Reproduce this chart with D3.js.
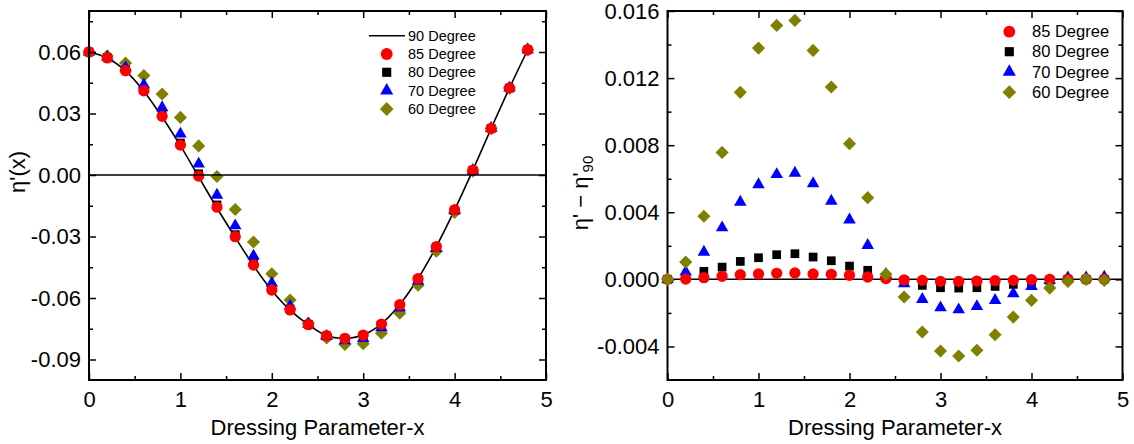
<!DOCTYPE html>
<html>
<head>
<meta charset="utf-8">
<script src="https://cdn.jsdelivr.net/npm/d3@7"></script>
<style>
  html, body { margin: 0; padding: 0; background: #fff; }
  svg { display: block; font-family: "Liberation Sans", Arial, sans-serif; }
</style>
</head>
<body>
<svg id="chart" width="1134" height="444"></svg>
<script>
// Dressing parameter sample points
const dressingX = [0, 0.2, 0.4, 0.6, 0.8, 1.0, 1.2, 1.4, 1.6, 1.8, 2.0, 2.2, 2.4,
                   2.6, 2.8, 3.0, 3.2, 3.4, 3.6, 3.8, 4.0, 4.2, 4.4, 4.6, 4.8];

// η'(x) for each angle
const eta90 = [0.0600, 0.0571, 0.0508, 0.0409, 0.0283, 0.0143, -0.0009, -0.0161, -0.0304, -0.0442,
               -0.0563, -0.0659, -0.0730, -0.0784, -0.0796, -0.0780, -0.0726, -0.0632, -0.0505,
               -0.0349, -0.0170, 0.0024, 0.0227, 0.0424, 0.0611];
const eta85 = [0.0600, 0.0571, 0.0509, 0.0411, 0.0286, 0.0146, -0.0005, -0.0157, -0.0301, -0.0439,
               -0.0561, -0.0658, -0.0730, -0.0784, -0.0797, -0.0781, -0.0727, -0.0633, -0.0506,
               -0.0350, -0.0170, 0.0024, 0.0227, 0.0424, 0.0611];
const eta80 = [0.0600, 0.0572, 0.0513, 0.0416, 0.0294, 0.0156, 0.0006, -0.0146, -0.0291, -0.0431,
               -0.0555, -0.0654, -0.0729, -0.0785, -0.0800, -0.0785, -0.0731, -0.0637, -0.0509,
               -0.0352, -0.0172, 0.0023, 0.0227, 0.0424, 0.0611];
const eta70 = [0.0600, 0.0575, 0.0524, 0.0440, 0.0329, 0.0200, 0.0054, -0.0098, -0.0247, -0.0395,
               -0.0528, -0.0639, -0.0727, -0.0787, -0.0808, -0.0797, -0.0744, -0.0648, -0.0518,
               -0.0358, -0.0174, 0.0023, 0.0228, 0.0425, 0.0612];
const eta60 = [0.0600, 0.0581, 0.0546, 0.0485, 0.0395, 0.0281, 0.0142, -0.0007, -0.0168, -0.0327,
               -0.0482, -0.0610, -0.0722, -0.0795, -0.0827, -0.0823, -0.0772, -0.0674, -0.0538,
               -0.0372, -0.0183, 0.0019, 0.0226, 0.0424, 0.0610];

// η' − η'90 for each angle
const diff85 = [0, 0.00002, 0.00010, 0.00018, 0.00028, 0.00032, 0.00036, 0.00038, 0.00032, 0.00030,
                0.00024, 0.00014, 0.00005, -0.00003, -0.00006, -0.00012, -0.00012, -0.00010, -0.00008,
                -0.00006, -0.00002, 0, 0, 0, 0];
const diff80 = [0, 0.00010, 0.00048, 0.00073, 0.00107, 0.00129, 0.00147, 0.00153, 0.00133, 0.00111,
                0.00079, 0.00054, 0.00010, -0.00006, -0.00036, -0.00050, -0.00052, -0.00050, -0.00042,
                -0.00030, -0.00016, -0.00006, 0.00001, 0.00001, 0.00001];
const diff70 = [0, 0.00044, 0.00163, 0.00308, 0.00461, 0.00565, 0.00626, 0.00634, 0.00571, 0.00467,
                0.00355, 0.00203, 0.00030, -0.00026, -0.00119, -0.00169, -0.00181, -0.00161, -0.00125,
                -0.00085, -0.00042, -0.00006, 0.00010, 0.00010, 0.00014];
const diff60 = [0, 0.00103, 0.00376, 0.00757, 0.01115, 0.01379, 0.01514, 0.01544, 0.01365, 0.01147,
                0.00809, 0.00487, 0.00030, -0.00105, -0.00314, -0.00427, -0.00457, -0.00423, -0.00330,
                -0.00225, -0.00125, -0.00052, -0.00012, 0, -0.00006];

// Axis ticks and labels
const xTicks = [0, 1, 2, 3, 4, 5];
const xTickLabels = ["0", "1", "2", "3", "4", "5"];
const xMinorTicks = [0.5, 1.5, 2.5, 3.5, 4.5];
const leftYTicks = [-0.09, -0.06, -0.03, 0.00, 0.03, 0.06];
const leftYTickLabels = ["-0.09", "-0.06", "-0.03", "0.00", "0.03", "0.06"];
const leftYMinorTicks = [-0.075, -0.045, -0.015, 0.015, 0.045, 0.075];
const rightYTicks = [-0.004, 0.000, 0.004, 0.008, 0.012, 0.016];
const rightYTickLabels = ["-0.004", "0.000", "0.004", "0.008", "0.012", "0.016"];
const rightYMinorTicks = [-0.002, 0.002, 0.006, 0.010, 0.014];

const seriesNames = ["85 Degree", "80 Degree", "70 Degree", "60 Degree"];
const lineName = "90 Degree";
const xTitle = "Dressing Parameter-x";

const svg = d3.select("#chart");

// marker styles per angle
const markerStyle = {
  "85 Degree": { type: d3.symbolCircle, size: 100, color: "#ff0000", rot: 0 },
  "80 Degree": { type: d3.symbolSquare, size: 76, color: "#000000", rot: 0 },
  "70 Degree": { type: d3.symbolTriangle, size: 68, color: "#0000ff", rot: 0 },
  "60 Degree": { type: d3.symbolSquare, size: 86, color: "#808000", rot: 45 }
};

function markerPath(name) {
  const s = markerStyle[name];
  return d3.symbol().type(s.type).size(s.size)();
}

function drawFrame(g, x, y, opts) {
  const [x0, x1] = x.range();
  const [y0, y1] = y.range();
  const w = x1 - x0, h = y0 - y1;

  const majorLen = 7, minorLen = 4;

  const addAxis = (axis, transform, labels) => {
    const a = g.append("g").attr("transform", transform).call(axis);
    a.select(".domain").remove();
    a.selectAll("line").attr("stroke", "#000").attr("stroke-width", 1.5);
    if (labels) {
      a.selectAll("text").attr("font-size", 22).attr("fill", "#000")
        .attr("font-family", '"Liberation Sans", Arial, sans-serif');
    } else {
      a.selectAll("text").remove();
    }
    return a;
  };

  // bottom
  addAxis(d3.axisBottom(x).tickValues(xTicks).tickSizeInner(-majorLen).tickSizeOuter(0)
      .tickPadding(11.5).tickFormat((d, i) => xTickLabels[i]), `translate(0,${y0})`, true);
  addAxis(d3.axisBottom(x).tickValues(xMinorTicks).tickSizeInner(-minorLen).tickSizeOuter(0)
      .tickFormat(""), `translate(0,${y0})`, false);
  // top
  addAxis(d3.axisTop(x).tickValues(xTicks).tickSizeInner(-majorLen).tickSizeOuter(0)
      .tickFormat(""), `translate(0,${y1})`, false);
  addAxis(d3.axisTop(x).tickValues(xMinorTicks).tickSizeInner(-minorLen).tickSizeOuter(0)
      .tickFormat(""), `translate(0,${y1})`, false);
  // left
  addAxis(d3.axisLeft(y).tickValues(opts.yTicks).tickSizeInner(-majorLen).tickSizeOuter(0)
      .tickPadding(8).tickFormat((d, i) => opts.yLabels[i]), `translate(${x0},0)`, true);
  addAxis(d3.axisLeft(y).tickValues(opts.yMinor).tickSizeInner(-minorLen).tickSizeOuter(0)
      .tickFormat(""), `translate(${x0},0)`, false);
  // right
  addAxis(d3.axisRight(y).tickValues(opts.yTicks).tickSizeInner(-majorLen).tickSizeOuter(0)
      .tickFormat(""), `translate(${x1},0)`, false);
  addAxis(d3.axisRight(y).tickValues(opts.yMinor).tickSizeInner(-minorLen).tickSizeOuter(0)
      .tickFormat(""), `translate(${x1},0)`, false);

  // zero line
  g.append("line")
    .attr("x1", x0).attr("x2", x1)
    .attr("y1", y(0)).attr("y2", y(0))
    .attr("stroke", "#000").attr("stroke-width", 1.5);

  // frame
  g.append("rect")
    .attr("x", x0).attr("y", y1).attr("width", w).attr("height", h)
    .attr("fill", "none").attr("stroke", "#000").attr("stroke-width", 2);

  // x title
  g.append("text")
    .attr("x", (x0 + x1) / 2).attr("y", 435)
    .attr("text-anchor", "middle").attr("font-size", 22)
    .text(xTitle);
}

function drawMarkers(g, x, y, name, values) {
  const s = markerStyle[name];
  g.append("g").selectAll("path")
    .data(dressingX.map((d, i) => ({ x: d, v: values[i] })))
    .join("path")
    .attr("d", markerPath(name))
    .attr("transform", d => `translate(${x(d.x)},${y(d.v)}) rotate(${s.rot})`)
    .attr("fill", s.color);
}

function drawLegendMarker(g, name, cx, cy, scale) {
  const s = markerStyle[name];
  g.append("path")
    .attr("d", d3.symbol().type(s.type).size(s.size * scale)())
    .attr("transform", `translate(${cx},${cy}) rotate(${s.rot})`)
    .attr("fill", s.color);
}

// ---------- Left panel: η'(x) ----------
const xL = d3.scaleLinear().domain([0, 5]).range([89, 546]);
const yL = d3.scaleLinear().domain([-0.1, 0.08]).range([380, 11]);
const gL = svg.append("g");

const leftData = { "85 Degree": eta85, "80 Degree": eta80, "70 Degree": eta70, "60 Degree": eta60 };

// 90 degree reference curve
gL.append("path")
  .datum(dressingX.map((d, i) => [d, eta90[i]]))
  .attr("d", d3.line().x(d => xL(d[0])).y(d => yL(d[1])).curve(d3.curveCatmullRom.alpha(0.5)))
  .attr("fill", "none").attr("stroke", "#000").attr("stroke-width", 1.6);

["60 Degree", "80 Degree", "70 Degree", "85 Degree"].forEach(n => drawMarkers(gL, xL, yL, n, leftData[n]));

drawFrame(gL, xL, yL, { yTicks: leftYTicks, yLabels: leftYTickLabels, yMinor: leftYMinorTicks });

gL.append("text")
  .attr("transform", "translate(25,172) rotate(-90)")
  .attr("text-anchor", "middle").attr("font-size", 22)
  .text("η'(x)");

// left legend
const legL = gL.append("g");
const legLRows = [35.7, 54, 72.3, 90.6, 109];
legL.append("line").attr("x1", 369).attr("x2", 405)
  .attr("y1", legLRows[0]).attr("y2", legLRows[0])
  .attr("stroke", "#000").attr("stroke-width", 1.6);
legL.append("text").attr("x", 408).attr("y", legLRows[0]).attr("dy", "0.35em")
  .attr("font-size", 14.5).text(lineName);
seriesNames.forEach((n, i) => {
  drawLegendMarker(legL, n, 386.7, legLRows[i + 1], 1.1);
  legL.append("text").attr("x", 408).attr("y", legLRows[i + 1]).attr("dy", "0.35em")
    .attr("font-size", 14.5).text(n);
});

// ---------- Right panel: η' − η'90 ----------
const xR = d3.scaleLinear().domain([0, 5]).range([667.5, 1122.5]);
const yR = d3.scaleLinear().domain([-0.006, 0.016]).range([380, 11]);
const gR = svg.append("g");

const rightData = { "85 Degree": diff85, "80 Degree": diff80, "70 Degree": diff70, "60 Degree": diff60 };

drawFrame(gR, xR, yR, { yTicks: rightYTicks, yLabels: rightYTickLabels, yMinor: rightYMinorTicks });

["80 Degree", "70 Degree", "85 Degree", "60 Degree"].forEach(n => drawMarkers(gR, xR, yR, n, rightData[n]));

const yTitleR = gR.append("text")
  .attr("transform", "translate(588,193) rotate(-90)")
  .attr("text-anchor", "middle").attr("font-size", 22);
yTitleR.append("tspan").text("η' − η'");
yTitleR.append("tspan").attr("font-size", 15).attr("dy", 5).text("90");

// right legend
const legR = gR.append("g");
const legRRows = [31.7, 51.7, 71.9, 92.2];
seriesNames.forEach((n, i) => {
  drawLegendMarker(legR, n, 1009.3, legRRows[i], 1.1);
  legR.append("text").attr("x", 1032).attr("y", legRRows[i]).attr("dy", "0.35em")
    .attr("font-size", 16.5).text(n);
});
</script>
</body>
</html>
